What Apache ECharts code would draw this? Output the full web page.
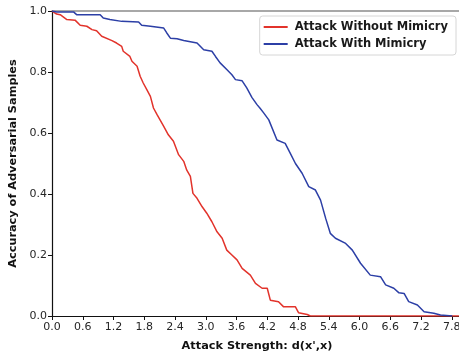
<!DOCTYPE html>
<html>
<head>
<meta charset="utf-8">
<script src="https://cdn.jsdelivr.net/npm/echarts@6/dist/echarts.min.js"></script>
<style>
html,body{margin:0;padding:0;background:#fff;}
#chart{width:459px;height:354px;}
</style>
</head>
<body>
<div id="chart"></div>
<script>
// Data
var seriesNames = ["Attack Without Mimicry", "Attack With Mimicry"];

var withoutX = [0, 0.09, 0.16, 0.29, 0.45, 0.55, 0.68, 0.78, 0.87, 0.97, 1.00, 1.17, 1.26, 1.36, 1.39, 1.52, 1.56, 1.66, 1.72, 1.78, 1.85, 1.92, 1.98, 2.05, 2.18, 2.27, 2.37, 2.47, 2.57, 2.63, 2.70, 2.75, 2.83, 2.93, 3.02, 3.12, 3.22, 3.32, 3.41, 3.51, 3.61, 3.71, 3.87, 3.97, 4.10, 4.20, 4.26, 4.42, 4.52, 4.75, 4.81, 4.98, 5.04, 7.94];
var withoutY = [1.0, 0.99, 0.988, 0.972, 0.97, 0.953, 0.95, 0.939, 0.935, 0.917, 0.912, 0.903, 0.895, 0.884, 0.868, 0.851, 0.835, 0.819, 0.786, 0.764, 0.742, 0.72, 0.682, 0.66, 0.622, 0.594, 0.573, 0.529, 0.507, 0.478, 0.458, 0.402, 0.386, 0.358, 0.337, 0.309, 0.276, 0.255, 0.216, 0.2, 0.184, 0.156, 0.134, 0.107, 0.091, 0.091, 0.052, 0.047, 0.030, 0.030, 0.011, 0.005, 0, 0];

var withX = [0, 0.09, 0.42, 0.48, 0.94, 1.00, 1.13, 1.36, 1.69, 1.75, 1.92, 2.18, 2.24, 2.31, 2.44, 2.57, 2.83, 2.96, 3.12, 3.19, 3.28, 3.41, 3.51, 3.58, 3.71, 3.80, 3.90, 4.00, 4.06, 4.13, 4.23, 4.39, 4.55, 4.65, 4.75, 4.88, 5.01, 5.14, 5.24, 5.34, 5.43, 5.53, 5.73, 5.86, 6.02, 6.21, 6.41, 6.51, 6.67, 6.77, 6.87, 6.96, 7.13, 7.26, 7.45, 7.58, 7.81];
var withY = [1.0, 0.997, 0.997, 0.988, 0.988, 0.977, 0.972, 0.966, 0.964, 0.953, 0.95, 0.944, 0.928, 0.911, 0.909, 0.903, 0.895, 0.873, 0.868, 0.851, 0.83, 0.808, 0.791, 0.775, 0.771, 0.748, 0.717, 0.693, 0.681, 0.666, 0.643, 0.577, 0.566, 0.533, 0.5, 0.468, 0.424, 0.413, 0.38, 0.32, 0.271, 0.255, 0.238, 0.216, 0.173, 0.134, 0.129, 0.102, 0.091, 0.076, 0.074, 0.047, 0.036, 0.014, 0.009, 0.003, 0];

var xTicks = [0.0, 0.6, 1.2, 1.8, 2.4, 3.0, 3.6, 4.2, 4.8, 5.4, 6.0, 6.6, 7.2, 7.8];
var yTicks = [0.0, 0.2, 0.4, 0.6, 0.8, 1.0];

function pairs(xs, ys) { return xs.map(function (x, i) { return [x, ys[i]]; }); }

var chart = echarts.init(document.getElementById('chart'), null, {renderer: 'canvas'});
var font = 'DejaVu Sans';
chart.setOption({
  animation: false,
  backgroundColor: '#ffffff',
  grid: {left: 52, right: -3, top: 11, bottom: 38, containLabel: false, outerBoundsMode: 'none'},
  legend: {
    data: seriesNames,
    orient: 'vertical',
    right: 3, top: 16,
    itemWidth: 24, itemHeight: 2, itemGap: 5,
    padding: [5, 8, 5, 4],
    borderColor: '#d6d6d6', borderWidth: 1, borderRadius: 3,
    backgroundColor: '#ffffff',
    icon: 'rect',
    textStyle: {fontFamily: font, fontWeight: 'bold', fontSize: 11.5, color: '#1a1a1a', padding: [0, 0, 0, 2]}
  },
  xAxis: [{
    type: 'value', min: 0, max: 8.0, interval: 0.6,
    name: "Attack Strength: d(x',x)", nameLocation: 'middle', nameGap: 25,
    nameTextStyle: {fontFamily: font, fontWeight: 'bold', fontSize: 11.3, color: '#111'},
    axisLine: {show: true, onZero: false, lineStyle: {color: '#111', width: 1.2}},
    axisTick: {show: true, length: 4, lineStyle: {color: '#111'}},
    axisLabel: {show: true, showMaxLabel: false, margin: 6, fontFamily: font, fontSize: 11, color: '#262626',
      formatter: function (v) { return xTicks.some(function(t){return Math.abs(t - v) < 1e-6;}) ? v.toFixed(1) : ''; }},
    splitLine: {show: false}
  }, {
    type: 'value', min: 0, max: 8.0, position: 'top',
    axisLine: {show: true, onZero: false, lineStyle: {color: '#8c8c8c', width: 1.5}},
    axisTick: {show: false}, axisLabel: {show: false}, splitLine: {show: false}
  }],
  yAxis: {
    type: 'value', min: 0, max: 1, interval: 0.2,
    name: 'Accuracy of Adversarial Samples', nameLocation: 'middle', nameGap: 32,
    nameTextStyle: {fontFamily: font, fontWeight: 'bold', fontSize: 11.3, color: '#111'},
    axisLine: {show: true, onZero: false, lineStyle: {color: '#111', width: 1.2}},
    axisTick: {show: true, length: 4, lineStyle: {color: '#111'}},
    axisLabel: {show: true, margin: 5, fontFamily: font, fontSize: 11, color: '#262626',
      formatter: function (v) { return v.toFixed(1); }},
    splitLine: {show: false}
  },
  series: [{
    name: seriesNames[0], type: 'line', xAxisIndex: 0, showSymbol: false, symbol: 'none',
    data: pairs(withoutX, withoutY),
    lineStyle: {color: '#e2332b', width: 1.5}, itemStyle: {color: '#e2332b'}
  }, {
    name: seriesNames[1], type: 'line', xAxisIndex: 0, showSymbol: false, symbol: 'none',
    data: pairs(withX, withY),
    lineStyle: {color: '#2c3fa6', width: 1.5}, itemStyle: {color: '#2c3fa6'}
  }]
});
</script>
</body>
</html>
